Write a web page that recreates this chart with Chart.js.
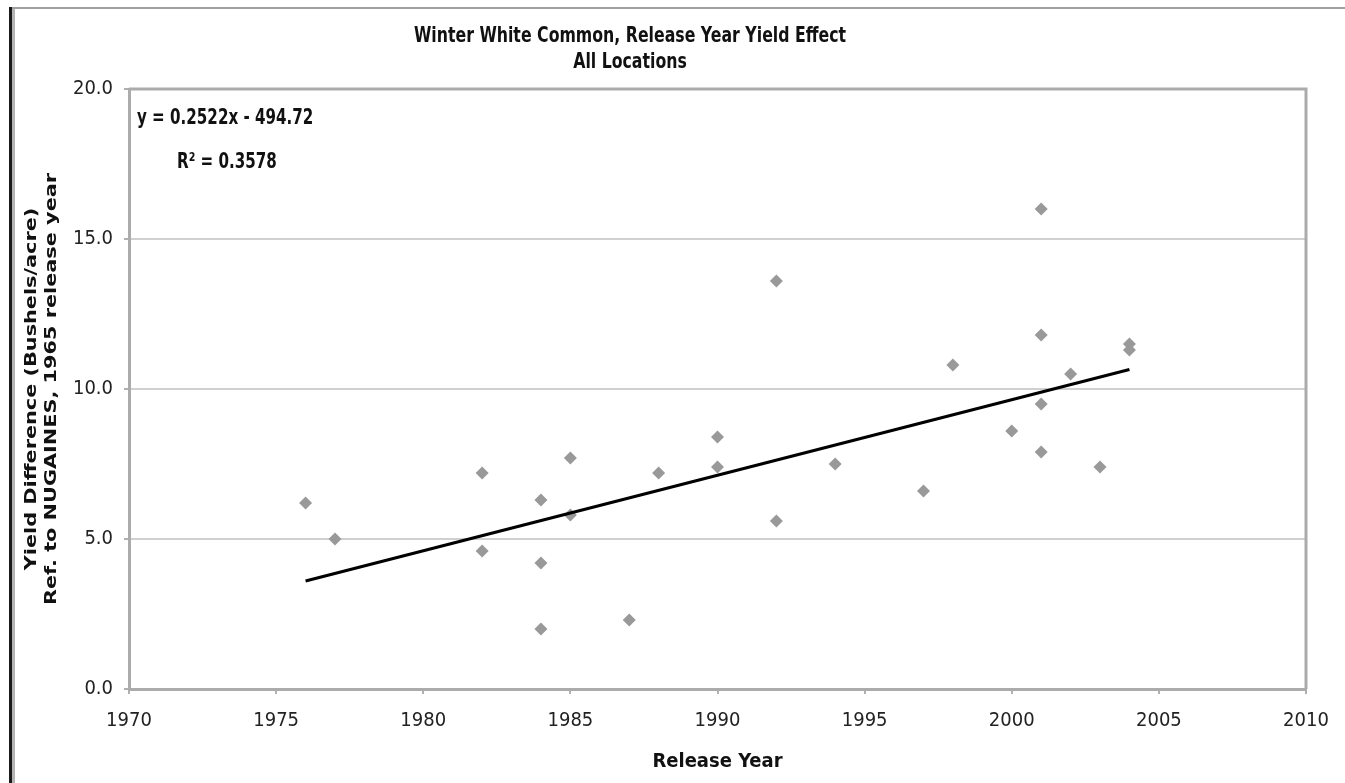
<!DOCTYPE html>
<html>
<head>
<meta charset="utf-8">
<script src="https://cdn.jsdelivr.net/npm/chart.js@4.4.1/dist/chart.umd.min.js"></script>
<style>
html, body { margin: 0; padding: 0; background: #fff; }
</style>
</head>
<body>
<canvas id="yieldChart" width="1345" height="783"></canvas>
<script>
// release year of each variety and its yield difference vs NUGAINES
const releaseYears = [1976, 1977, 1982, 1982, 1984, 1984, 1984, 1985, 1985, 1987, 1988, 1990, 1990,
    1992, 1992, 1994, 1997, 1998, 2000, 2001, 2001, 2001, 2001, 2002, 2003, 2004, 2004];
const yieldDiffs = [6.2, 5.0, 7.2, 4.6, 6.3, 4.2, 2.0, 7.7, 5.8, 2.3, 7.2, 8.4, 7.4,
    13.6, 5.6, 7.5, 6.6, 10.8, 8.6, 16.0, 11.8, 9.5, 7.9, 10.5, 7.4, 11.5, 11.3];

// linear trendline, as drawn by the spreadsheet
const trendYears = [1976, 2004];
const trendValues = [3.6, 10.65];

const chartTitle = ['Winter White Common, Release Year Yield Effect', 'All Locations'];
const trendLabel = ['y = 0.2522x - 494.72', 'R\u00b2 = 0.3578'];
const yTitle = ['Yield Difference (Bushels/acre)', 'Ref. to NUGAINES, 1965 release year'];

const points = releaseYears.map((yr, i) => ({ x: yr, y: yieldDiffs[i] }));
const trend = trendYears.map((yr, i) => ({ x: yr, y: trendValues[i] }));

const condensed = '"DejaVu Sans Condensed", "DejaVu Sans", sans-serif';

// the original picture is squeezed sideways, so text is drawn narrow
function drawText(c, txt, x, y, sx, rot) {
    c.save();
    c.translate(x, y);
    if (rot) c.rotate(rot);
    c.scale(sx, 1);
    c.fillText(txt, 0, 0);
    c.restore();
}

// frame, plot border, titles and equation text
const decorations = {
    id: 'decorations',
    beforeDraw(chart) {
        const c = chart.ctx;
        c.save();
        c.fillStyle = '#ffffff';
        c.fillRect(0, 0, chart.width, chart.height);
        c.fillStyle = '#a0a0a0';
        c.fillRect(9, 7, chart.width - 9, 2);
        c.fillStyle = '#1a1a1a';
        c.fillRect(9, 7, 3, chart.height - 7);
        c.fillStyle = '#b4b4b4';
        c.fillRect(12, 9, 3, chart.height - 9);
        c.restore();
    },
    afterDraw(chart) {
        const c = chart.ctx;
        const a = chart.chartArea;
        c.save();
        c.strokeStyle = '#ababab';
        c.lineWidth = 3;
        c.beginPath();
        c.moveTo(a.left, a.top);
        c.lineTo(a.right, a.top);
        c.lineTo(a.right, a.bottom);
        c.stroke();

        c.fillStyle = '#111';
        c.textBaseline = 'middle';

        c.textAlign = 'center';
        c.font = 'bold 21px "DejaVu Sans"';
        drawText(c, chartTitle[0], 630, 37, 0.75);
        drawText(c, chartTitle[1], 630, 63, 0.75);

        c.textAlign = 'left';
        c.font = 'bold 21px "DejaVu Sans"';
        drawText(c, trendLabel[0], 137, 119, 0.72);
        drawText(c, trendLabel[1], 177, 163, 0.72);

        c.textAlign = 'center';
        c.font = 'bold 16px "DejaVu Sans"';
        const midY = (a.top + a.bottom) / 2;
        drawText(c, yTitle[0], 32, midY, 1.3, -Math.PI / 2);
        drawText(c, yTitle[1], 52, midY, 1.3, -Math.PI / 2);
        c.restore();
    }
};

const ctx = document.getElementById('yieldChart').getContext('2d');
const yieldChart = new Chart(ctx, {
    data: {
        datasets: [{
            type: 'line',
            label: 'Trend',
            data: trend,
            borderColor: '#000000',
            borderWidth: 3,
            pointRadius: 0,
            order: 0
        }, {
            type: 'scatter',
            label: 'Yield difference',
            data: points,
            pointStyle: 'rectRot',
            pointRadius: 6.5,
            pointHoverRadius: 6.5,
            backgroundColor: '#999999',
            borderColor: '#999999',
            borderWidth: 0,
            order: 1
        }]
    },
    options: {
        responsive: false,
        animation: false,
        layout: {
            padding: { left: 15, right: 39, top: 89, bottom: 0 }
        },
        plugins: {
            legend: { display: false },
            tooltip: { enabled: false }
        },
        scales: {
            x: {
                type: 'linear',
                min: 1970,
                max: 2010,
                afterFit: (scale) => { scale.height = 94; },
                ticks: {
                    stepSize: 5,
                    padding: 15,
                    color: '#222',
                    font: { family: condensed, size: 20 },
                    callback: (v) => String(v)
                },
                grid: {
                    drawOnChartArea: false,
                    drawTicks: true,
                    tickLength: 5,
                    color: '#b0b0b0',
                    lineWidth: 2
                },
                border: { color: '#ababab', width: 3 },
                title: {
                    display: true,
                    text: 'Release Year',
                    color: '#111',
                    font: { family: condensed, size: 20, weight: 'bold', lineHeight: 1.2 },
                    padding: { top: 0, bottom: 9 }
                }
            },
            y: {
                min: 0,
                max: 20,
                afterFit: (scale) => { scale.width = 114; },
                ticks: {
                    stepSize: 5,
                    padding: 11,
                    color: '#222',
                    font: { family: condensed, size: 20 },
                    callback: (v) => v.toFixed(1)
                },
                grid: {
                    color: '#d0d0d0',
                    lineWidth: 2,
                    tickLength: 5,
                    tickColor: '#b0b0b0'
                },
                border: { color: '#ababab', width: 3 }
            }
        }
    },
    plugins: [decorations]
});
</script>
</body>
</html>
